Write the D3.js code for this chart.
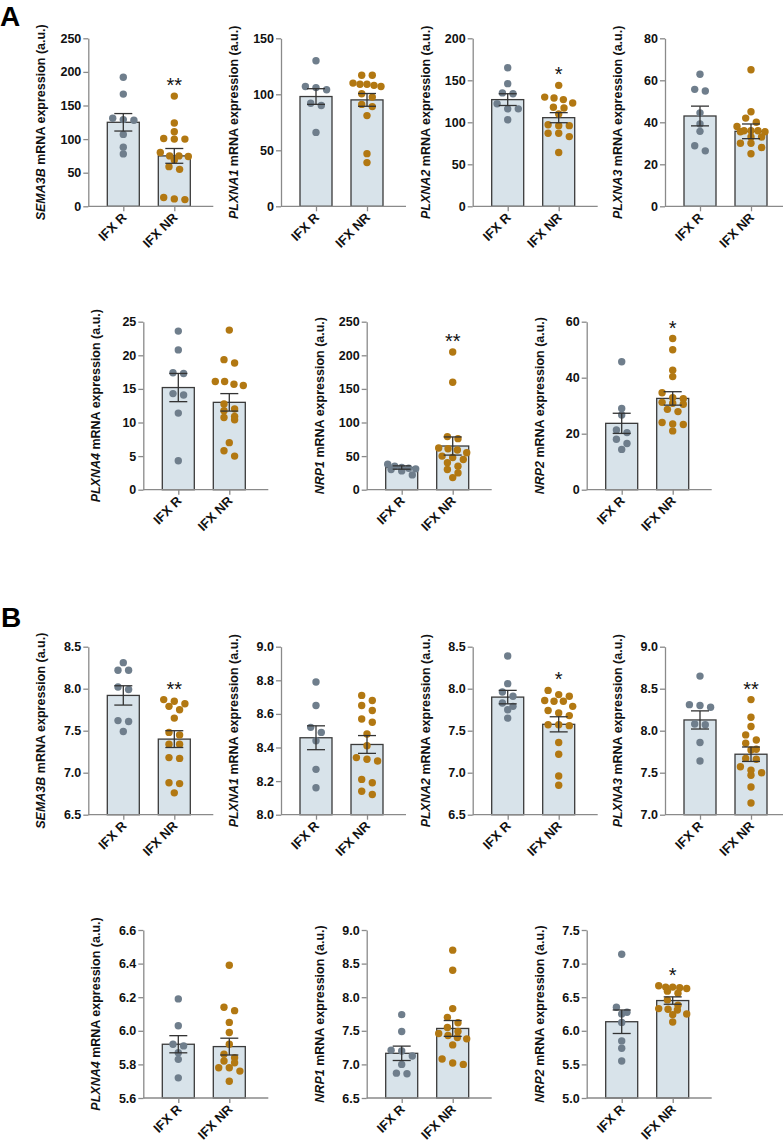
<!DOCTYPE html>
<html>
<head>
<meta charset="utf-8">
<script src="https://cdn.jsdelivr.net/npm/d3@7"></script>
<style>
  body { margin: 0; background: #fff; }
  text { font-family: "Liberation Sans", Arial, sans-serif; }
</style>
</head>
<body>
<svg id="fig"></svg>
<script>
// genes and groups
const genes = ["SEMA3B", "PLXNA1", "PLXNA2", "PLXNA3", "PLXNA4", "NRP1", "NRP2"];
const groups = ["IFX R", "IFX NR"];

// Panel A (a.u.)
const aR = [
  [192, 167, 131, 129, 128, 107, 88, 78],
  [130, 106, 107, 104, 92, 90, 66],
  [165, 146, 135, 134, 122, 116, 116, 103],
  [62.9, 55.7, 54.9, 44.5, 39.2, 35.7, 28.8, 26.4],
  [23.6, 20.8, 17.4, 17.3, 14.3, 14.1, 11.4, 4.3],
  [38, 35, 33, 32, 31, 30, 28, 22],
  [45.7, 29, 26.7, 21.3, 20.4, 18, 16.5, 14.4]
];
const aNR = [
  [164, 124, 111, 101, 100, 100, 80, 75, 75, 74, 69, 59, 55, 13, 11, 10],
  [117, 117, 110, 109, 109, 108, 107, 100.5, 97.5, 91, 89, 81, 47, 39],
  [144, 130, 129, 127, 123, 118, 117, 110, 97, 96, 96, 87, 87, 83, 64],
  [65, 45, 42, 40, 38, 36, 36, 36, 35.5, 35.5, 33, 33, 30, 30, 28, 25],
  [23.75, 19.35, 18.85, 16.1, 16.1, 15.7, 15.5, 12.75, 12, 11.75, 10.9, 10.75, 10.4, 7, 5.8, 5],
  [205, 160, 79, 76, 62, 61, 59, 55, 50, 48, 45, 40, 35, 30, 25, 18],
  [54, 50, 42.7, 40.4, 34.6, 32.9, 32.5, 31.2, 30.9, 30.5, 28.7, 27.9, 24, 23.5, 23.3, 21]
];
const aMean = [[125, 75], [98, 95], [127, 105.5], [43, 35.7], [15.2, 13], [33, 65], [23.7, 32.6]];
const aSem = [[13, 11], [7, 5.7], [7, 6], [4.7, 3.5], [2.1, 1.3], [2.5, 13.5], [3.6, 2.4]];
const aMin = [0, 0, 0, 0, 0, 0, 0];
const aMax = [250, 150, 200, 80, 25, 250, 60];
const aStep = [50, 50, 50, 20, 5, 50, 20];
const aStars = ["**", "", "*", "", "", "**", "*"];

// Panel B (a.u.)
const bR = [
  [8.31, 8.22, 8.22, 8.02, 7.99, 7.62, 7.61, 7.49],
  [8.79, 8.65, 8.52, 8.49, 8.44, 8.27, 8.16],
  [8.39, 8.06, 7.96, 7.91, 7.83, 7.79, 7.75, 7.65],
  [8.65, 8.31, 8.30, 8.28, 8.08, 8.07, 7.86, 7.64],
  [6.19, 6.03, 5.92, 5.91, 5.87, 5.83, 5.72],
  [7.74, 7.49, 7.21, 7.2, 7.125, 7.0, 6.87, 6.86],
  [7.14, 6.35, 6.275, 6.25, 6.125, 5.85, 5.74, 5.55]
];
const bNR = [
  [7.87, 7.85, 7.82, 7.79, 7.75, 7.65, 7.48, 7.45, 7.34, 7.34, 7.18, 7.17, 6.88, 6.87, 6.76],
  [8.71, 8.68, 8.65, 8.62, 8.57, 8.55, 8.48, 8.41, 8.34, 8.33, 8.32, 8.21, 8.19, 8.14, 8.12],
  [7.98, 7.93, 7.91, 7.86, 7.85, 7.85, 7.79, 7.74, 7.71, 7.68, 7.57, 7.57, 7.56, 7.36, 7.22, 6.96, 6.85],
  [8.37, 8.16, 8.05, 7.95, 7.89, 7.85, 7.78, 7.77, 7.67, 7.66, 7.57, 7.53, 7.5, 7.47, 7.33, 7.14],
  [6.39, 6.14, 6.12, 6.05, 5.99, 5.92, 5.86, 5.84, 5.82, 5.81, 5.78, 5.78, 5.76, 5.70],
  [8.7, 8.4, 7.83, 7.7, 7.62, 7.55, 7.49, 7.46, 7.43, 7.4, 7.38, 7.29, 7.08, 7.02, 7.0],
  [6.67, 6.65, 6.65, 6.64, 6.63, 6.59, 6.56, 6.46, 6.38, 6.33, 6.32, 6.31, 6.25, 6.24, 6.13]
];
const bMean = [[7.92, 7.40], [8.458, 8.418], [7.90, 7.576], [8.128, 7.72], [5.92, 5.906], [7.165, 7.535], [6.135, 6.45]];
const bSem = [[0.115, 0.10], [0.071, 0.053], [0.08, 0.09], [0.108, 0.086], [0.051, 0.05], [0.107, 0.118], [0.175, 0.055]];
const bMin = [6.5, 8.0, 6.5, 7.0, 5.6, 6.5, 5.0];
const bMax = [8.5, 9.0, 8.5, 9.0, 6.6, 9.0, 7.5];
const bStep = [0.5, 0.2, 0.5, 0.5, 0.2, 0.5, 0.5];
const bStars = ["**", "", "*", "**", "", "", "*"];

// layout
const W = 783, H = 1143;
const plotH = 168, axisLen = 125, barW = 32, dotR = 3.7;
const rowTop = [38.3, 321.7, 646.7, 930];
const colTop = [88.3, 281, 472.7, 665];
const colBot = [143.3, 366.7, 586.7];
const colR = "#6f7e8c", colNR = "#b27812";

const svg = d3.select("#fig").attr("width", W).attr("height", H)
  .style("background", "#fff");

svg.append("text").attr("x", 0).attr("y", 26)
  .style("font-size", "28px").style("font-weight", "bold").text("A");
svg.append("text").attr("x", 1).attr("y", 627)
  .style("font-size", "28px").style("font-weight", "bold").text("B");

// spread points of one group sideways, row by row (like a scatter dot plot)
function swarm(vals, y, cx) {
  const sorted = vals.slice().sort((a, b) => b - a);
  const rows = [];
  sorted.forEach(v => {
    const py = y(v);
    const last = rows[rows.length - 1];
    if (last && py - last.y0 < 6 && last.pts.length < 5) last.pts.push(py);
    else rows.push({ y0: py, pts: [py] });
  });
  const out = [];
  rows.forEach(r => {
    const n = r.pts.length;
    const s = n > 1 ? Math.min(10.6, 28 / (n - 1)) : 0;
    r.pts.forEach((py, i) => out.push({ x: cx + (i - (n - 1) / 2) * s, y: py }));
  });
  return out;
}

function panel(x0, y0, i, set) {
  const g = svg.append("g").attr("transform", `translate(${x0},${y0})`);
  const lo = set.min[i], hi = set.max[i], st = set.step[i];
  const dec = st < 1 ? 1 : 0;

  const y = d3.scaleLinear().domain([lo, hi]).range([plotH, 0]);
  const x = d3.scalePoint().domain(groups).range([35, 86]);

  // bars
  groups.forEach((gname, k) => {
    const m = set.mean[i][k];
    g.append("rect")
      .attr("x", x(gname) - barW / 2).attr("y", y(m))
      .attr("width", barW).attr("height", y(lo) - y(m))
      .attr("fill", "#d8e3ea").attr("stroke", "#3a3a3a").attr("stroke-width", 1.3);
  });

  // dots
  [set.r[i], set.nr[i]].forEach((vals, k) => {
    g.selectAll(null).data(swarm(vals, y, x(groups[k]))).enter()
      .append("circle")
      .attr("cx", d => d.x).attr("cy", d => d.y).attr("r", dotR)
      .attr("fill", k === 0 ? colR : colNR);
  });

  // error bars
  groups.forEach((gname, k) => {
    const m = set.mean[i][k], e = set.sem[i][k], cx = x(gname);
    const eb = g.append("g").attr("stroke", "#333").attr("stroke-width", 1.3);
    eb.append("line").attr("x1", cx).attr("x2", cx).attr("y1", y(m + e)).attr("y2", y(m - e));
    [m + e, m - e].forEach(v => {
      eb.append("line").attr("x1", cx - 9).attr("x2", cx + 9).attr("y1", y(v)).attr("y2", y(v));
    });
  });

  // y axis
  const ticks = d3.range(0, Math.round((hi - lo) / st) + 1).map(t => lo + t * st);
  const ya = g.append("g")
    .call(d3.axisLeft(y).tickValues(ticks).tickSize(5).tickSizeOuter(0).tickPadding(2)
      .tickFormat(d3.format(`.${dec}f`)));
  ya.select(".domain").attr("stroke", "#8a8a8a").attr("stroke-width", 1.3);
  ya.selectAll(".tick line").attr("stroke", "#8a8a8a").attr("stroke-width", 1.3);
  ya.selectAll(".tick text").attr("fill", "#111")
    .style("font-size", "12.5px").style("font-weight", "bold");

  // x axis
  g.append("line").attr("x1", 0).attr("x2", axisLen).attr("y1", plotH).attr("y2", plotH)
    .attr("stroke", "#8a8a8a").attr("stroke-width", 1.3);
  const xa = g.append("g").attr("transform", `translate(0,${plotH})`)
    .call(d3.axisBottom(x).tickSize(5).tickSizeOuter(0).tickFormat(""));
  xa.select(".domain").remove();
  xa.selectAll(".tick line").attr("stroke", "#8a8a8a").attr("stroke-width", 1.3);
  groups.forEach(gname => {
    g.append("text")
      .attr("transform", `translate(${x(gname) + 4},${plotH + 12}) rotate(-45)`)
      .attr("text-anchor", "end")
      .style("font-size", "13px").style("font-weight", "bold").attr("fill", "#111")
      .text(gname);
  });

  // y label
  const lab = g.append("text")
    .attr("transform", `translate(-43,${plotH / 2}) rotate(-90)`)
    .attr("text-anchor", "middle")
    .style("font-size", "12.5px").style("font-weight", "bold").attr("fill", "#111");
  lab.append("tspan").style("font-style", "italic").text(genes[i]);
  lab.append("tspan").text(" mRNA expression (a.u.)");

  // significance
  if (set.stars[i]) {
    const top = d3.max(set.nr[i]);
    g.append("text")
      .attr("x", x(groups[1])).attr("y", y(top) - 4)
      .attr("text-anchor", "middle")
      .style("font-size", "20px").attr("fill", "#111")
      .text(set.stars[i]);
  }
}

const setA = { r: aR, nr: aNR, mean: aMean, sem: aSem, min: aMin, max: aMax, step: aStep, stars: aStars };
const setB = { r: bR, nr: bNR, mean: bMean, sem: bSem, min: bMin, max: bMax, step: bStep, stars: bStars };

[setA, setB].forEach((set, s) => {
  for (let i = 0; i < 7; i++) {
    const row = s * 2 + (i < 4 ? 0 : 1);
    const x0 = i < 4 ? colTop[i] : colBot[i - 4];
    panel(x0, rowTop[row], i, set);
  }
});
</script>
</body>
</html>
